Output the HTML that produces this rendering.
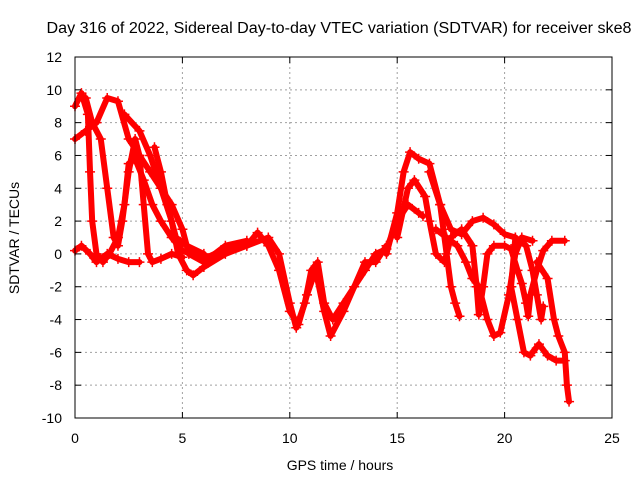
<!DOCTYPE html>
<html><head><meta charset="utf-8"><style>
body{margin:0;background:#fff;}
svg text{font-family:"Liberation Sans",sans-serif;font-size:14px;fill:#000;}
</style></head><body>
<svg id="chart" width="640" height="480" xmlns="http://www.w3.org/2000/svg">
<rect width="640" height="480" fill="#fff"/>
<text x="339" y="33" text-anchor="middle" textLength="585" lengthAdjust="spacingAndGlyphs" style="font-size:15.5px">Day 316 of 2022, Sidereal Day-to-day VTEC variation (SDTVAR) for receiver ske8</text>
<g id="grid"></g>
<g id="series"></g>
<g id="axes"></g>
<text x="340" y="470" text-anchor="middle">GPS time / hours</text>
<text transform="translate(19,238) rotate(-90)" text-anchor="middle">SDTVAR / TECUs</text>
</svg>
<script>
const xTicks=[0,5,10,15,20,25];
const yTicks=[12,10,8,6,4,2,0,-2,-4,-6,-8,-10];
const trace1=[[0,9],[0.3,9.8],[0.6,8.5],[0.7,5],[0.8,2],[1,0],[1.3,-0.5],[1.6,0],[2,1],[2.3,3],[2.5,5.5],[2.8,5.8],[3.2,4.5],[3.6,3],[4,2],[4.5,1],[5,0.2],[6,-0.3],[7,0.3],[8,0.5],[9,1],[9.5,0],[10,-3],[10.3,-4.5],[10.7,-3],[11,-1],[11.3,-0.5],[11.6,-3],[12,-4],[12.5,-3],[13,-2],[13.5,-1],[14,0],[14.5,0.3],[15,2],[15.5,3],[16,2.5],[16.2,2.3]];
const trace2=[[0,7],[0.5,7.5],[1,8],[1.5,9.5],[2,9.3],[2.5,7],[3,6],[3.5,5],[4,4],[4.5,3],[5,1.5],[5.3,0],[6,-0.5],[7,0.5],[8,0.8]];
const trace3=[[0.5,9.5],[0.8,8],[1.2,7],[1.5,4],[1.8,1],[2,0.5],[2.2,2],[2.5,5],[2.8,7],[3,6],[3.2,3],[3.4,0],[3.6,-0.5],[4,-0.3],[4.5,0],[5,-0.2]];
const trace4=[[0,0.2],[0.3,0.5],[0.7,0],[1,-0.5],[1.5,0],[2,-0.3],[2.5,-0.5],[3,-0.5]];
const trace5=[[3.7,6.5],[4,5],[4.3,3],[4.7,1],[5.2,0.5],[6,0]];
const trace6=[[2.3,8.5],[3,7.5],[3.5,6],[4,4],[4.5,2],[4.8,0],[5.2,-1],[5.5,-1.3],[6,-0.8],[7,0],[8,0.5],[8.5,1.3],[9,0.5],[9.5,-1],[10,-3.5],[10.4,-4.3],[10.8,-2.5],[11.2,-1],[11.6,-3.5],[11.9,-5],[12.5,-3.5],[13,-2],[13.5,-0.5],[14,-0.5],[14.5,0.5]];
const trace7=[[14.5,0],[15,2.5],[15.3,5],[15.6,6.2],[16,5.8],[16.5,5.5],[17,3],[17.3,0],[17.5,-2],[17.7,-3],[17.9,-3.8]];
const trace8=[[15,1],[15.5,4],[15.8,4.5],[16.3,3.5],[16.5,2],[16.8,0],[17.2,-0.5],[17.5,1],[18,1.5],[18.5,0.5],[18.7,-2],[18.8,-3.7],[19,-2],[19.2,0],[19.5,0.5],[20,0.5],[20.3,0.3],[20.6,-1],[20.8,-1.8],[21,-3],[21.1,-3.8],[21.2,-2.5],[21.5,-1],[21.8,0.2],[22.2,0.8],[22.8,0.8]];
const trace9=[[16.5,5],[17,3],[17.5,1.5],[18,1.2],[18.5,2],[19,2.2],[19.5,1.8],[20,1.2],[20.5,1],[21,0.5],[21.3,-1],[21.5,-2.5],[21.7,-4],[21.8,-3.2]];
const trace10=[[16.8,1.5],[17.3,1],[17.8,0.5],[18.2,-0.5],[18.5,-1.5],[18.8,-2],[19.2,-4],[19.5,-5],[19.8,-4.8],[20.2,-2.5],[20.5,0],[20.8,1],[21.3,0.8]];
const trace11=[[20.5,1],[20.3,-2],[20.6,-4],[20.9,-6],[21.2,-6.2]];
const trace12=[[21.5,-0.5],[22,-1.5],[22.3,-4],[22.5,-5],[22.8,-6],[22.9,-8],[23,-9]];
const trace13=[[21.3,-6],[21.6,-5.5],[22,-6.2],[22.4,-6.5],[22.8,-6.5]];
const traces=[trace1,trace2,trace3,trace4,trace5,trace6,trace7,trace8,trace9,trace10,trace11,trace12,trace13];

const X0=75,X1=612,Y0=418,Y1=57;
const xs=v=>X0+(v-0)/(25-0)*(X1-X0);
const ys=v=>Y0-(v+10)/(22)*(Y0-Y1);
const NS="http://www.w3.org/2000/svg";
function mk(t,p,a){const e=document.createElementNS(NS,t);for(const k in a)e.setAttribute(k,a[k]);p.appendChild(e);return e;}
const grid=document.getElementById('grid'),axes=document.getElementById('axes'),ser=document.getElementById('series');
xTicks.forEach(t=>{
  const x=xs(t);
  if(t>0&&t<25){const l=mk('line',grid,{x1:x,x2:x,y1:Y1,y2:Y0,stroke:'#a0a0a0','stroke-dasharray':'2,3'});
  
  }
  mk('line',axes,{x1:x,x2:x,y1:Y0,y2:Y0-6,stroke:'#000'});
  mk('line',axes,{x1:x,x2:x,y1:Y1,y2:Y1+6,stroke:'#000'});
  const tx=mk('text',axes,{x:x,y:Y0+25,'text-anchor':'middle'});tx.textContent=t;
  
  
});
yTicks.forEach(t=>{
  const y=ys(t);
  if(t>-10&&t<12){const l=mk('line',grid,{x1:X0,x2:X1,y1:y,y2:y,stroke:'#a0a0a0','stroke-dasharray':'2,3'});
  
  }
  mk('line',axes,{x1:X0,x2:X0+6,y1:y,y2:y,stroke:'#000'});
  mk('line',axes,{x1:X1,x2:X1-6,y1:y,y2:y,stroke:'#000'});
  const tx=mk('text',axes,{x:X0-13,y:y+5,'text-anchor':'end'});tx.textContent=t;
  
  
});
mk('rect',axes,{x:X0,y:Y1,width:X1-X0,height:Y0-Y1,fill:'none',stroke:'#000'});
traces.forEach((tr,i)=>{
  const p=mk('polyline',ser,{points:tr.map(d=>xs(d[0])+','+ys(d[1])).join(' '),fill:'none',stroke:'#ff0000','stroke-width':6,'stroke-linejoin':'round','stroke-linecap':'round'});
  
  
  tr.forEach(d=>{
    const x=xs(d[0]),y=ys(d[1]);
    const m=mk('path',ser,{d:`M${x-5},${y}H${x+5}M${x},${y-5}V${y+5}`,stroke:'#ff0000','stroke-width':1.5});
    
    
  });
});
</script>
</body></html>
